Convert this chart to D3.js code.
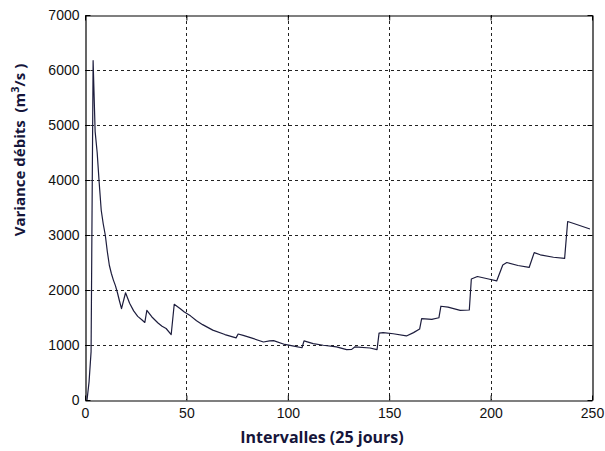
<!DOCTYPE html>
<html>
<head>
<meta charset="utf-8">
<script src="https://cdn.jsdelivr.net/npm/d3@7"></script>
<style>
  html, body { margin: 0; padding: 0; background: #fff; }
  svg { display: block; }
</style>
</head>
<body>
<svg id="chart" width="605" height="451"></svg>
<script>
// Interval index (x) and flow-rate variance (y)
const intervals = [
  1, 2, 3, 4, 5, 6, 7, 8, 9, 10, 11, 12, 13, 14, 15, 16, 17, 18, 20,
  22, 24, 26, 28, 29.5, 30.5, 33, 36, 38, 40, 42.5, 44, 47, 49, 52, 55,
  58, 63, 69, 74.5, 75.5, 78, 82, 88, 91, 93, 98.5, 103, 107, 108,
  112.5, 117.5, 124, 129, 131.5, 133, 140.5, 144, 145, 147, 152, 158.5,
  162, 165, 166, 171, 174.5, 175.5, 179, 185, 189.5, 190.5, 193.5, 199,
  203, 206, 208, 213.5, 219, 221.5, 224.5, 231, 236.5, 238, 241, 249
];
const variance = [
  0, 330, 880, 6170, 4880, 4500, 3950, 3450, 3200, 3000, 2700, 2450, 2300, 2180, 2080, 1950, 1800, 1660, 1950,
  1760, 1620, 1520, 1460, 1410, 1630, 1510, 1400, 1340, 1300, 1190, 1740, 1660, 1600, 1530, 1440,
  1370, 1270, 1190, 1130, 1200, 1175, 1130, 1055, 1075, 1080, 1010, 980, 950, 1075,
  1025, 995, 965, 915, 920, 965, 945, 915, 1215, 1225, 1205, 1165,
  1225, 1290, 1480, 1465, 1495, 1705, 1690, 1630, 1636, 2200, 2245, 2200,
  2165, 2455, 2500, 2445, 2410, 2680, 2640, 2595, 2575, 3245, 3210, 3110
];
const xTicks = [0, 50, 100, 150, 200, 250];
const yTicks = [0, 1000, 2000, 3000, 4000, 5000, 6000, 7000];

const svg = d3.select("#chart");
const mLeft = 85, mRight = 592, mTop = 15, mBottom = 400;

const x = d3.scaleLinear().domain([0, 250]).range([mLeft, mRight]);
const y = d3.scaleLinear().domain([0, 7000]).range([mBottom, mTop]);

// dashed grid
const grid = svg.append("g")
  .attr("stroke", "#222")
  .attr("stroke-width", 1)
  .attr("stroke-dasharray", "3,3")
  .attr("shape-rendering", "crispEdges");
grid.selectAll("line.gx").data(xTicks.slice(1, -1)).join("line")
  .attr("x1", d => Math.round(x(d)) + 0.5).attr("x2", d => Math.round(x(d)) + 0.5)
  .attr("y1", mTop).attr("y2", mBottom);
grid.selectAll("line.gy").data(yTicks.slice(1, -1)).join("line")
  .attr("x1", mLeft).attr("x2", mRight)
  .attr("y1", d => Math.round(y(d)) + 0.5).attr("y2", d => Math.round(y(d)) + 0.5);

// axes with inward ticks
const fmt = d3.format("d");
svg.append("g")
  .attr("transform", `translate(0,${mBottom + 0.5})`)
  .call(d3.axisBottom(x).tickValues(xTicks).tickFormat(fmt).tickSizeInner(-5).tickSizeOuter(0).tickPadding(8));
svg.append("g")
  .attr("transform", `translate(${mLeft + 0.5},0)`)
  .call(d3.axisLeft(y).tickValues(yTicks).tickFormat(fmt).tickSizeInner(-5).tickSizeOuter(0).tickPadding(6));
svg.append("g")
  .attr("transform", `translate(${mRight + 0.5},0)`)
  .call(d3.axisRight(y).tickValues(yTicks).tickSizeInner(-5).tickSizeOuter(0).tickFormat(""));
svg.append("g")
  .attr("transform", `translate(0,${mTop + 0.5})`)
  .call(d3.axisTop(x).tickValues(xTicks).tickSizeInner(-5).tickSizeOuter(0).tickFormat(""));

svg.selectAll(".domain").attr("stroke", "#000").attr("stroke-width", 1.2);
svg.selectAll(".tick line").attr("stroke", "#000");
svg.selectAll(".tick text")
  .style("font-family", "'Liberation Sans', Arial, sans-serif")
  .style("font-size", "14px")
  .attr("fill", "#111");

// variance curve
const line = d3.line().x((d, i) => x(intervals[i])).y(d => y(d));
svg.append("path")
  .datum(variance)
  .attr("fill", "none")
  .attr("stroke", "#1d1d3d")
  .attr("stroke-width", 1.2)
  .attr("stroke-linejoin", "round")
  .attr("d", line);

// axis titles
const titleFont = "'Open Sans', Lato, sans-serif";
svg.append("text")
  .attr("x", 322).attr("y", 443)
  .attr("text-anchor", "middle")
  .style("font-family", titleFont)
  .style("font-weight", "bold")
  .style("font-size", "16px")
  .attr("fill", "#15153a")
  .text("Intervalles (25 jours)");

const yt = svg.append("text")
  .attr("transform", "translate(25,150) rotate(-90)")
  .attr("text-anchor", "middle")
  .style("font-family", titleFont)
  .style("font-weight", "bold")
  .style("font-size", "15px")
  .style("white-space", "pre")
  .attr("fill", "#15153a");
yt.append("tspan").text("Variance débits  (m");
yt.append("tspan").attr("dy", -6).style("font-size", "11px").text("3");
yt.append("tspan").attr("dy", 6).text("/s )");
</script>
</body>
</html>
